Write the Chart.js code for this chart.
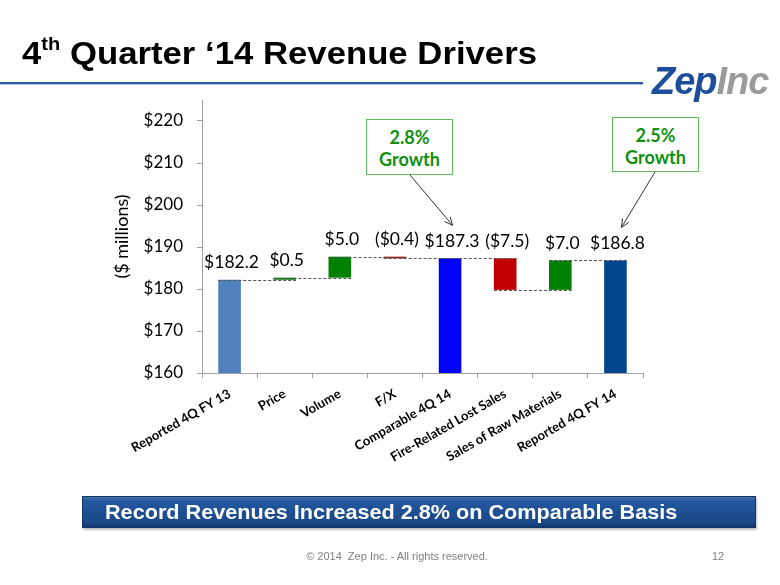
<!DOCTYPE html>
<html>
<head>
<meta charset="utf-8">
<script src="https://cdn.jsdelivr.net/npm/chart.js@4.4.1/dist/chart.umd.min.js"></script>
<style>
  html, body { margin: 0; padding: 0; background: #fff; }
  #wrap { position: relative; width: 780px; height: 585px; overflow: hidden; background: #fff; }
  #c { position: absolute; left: 0; top: 0; }
  .abs { position: absolute; white-space: nowrap; }
  #title { left: 22px; top: 37px; font-family: "Liberation Sans", Arial, sans-serif; font-weight: bold; font-size: 32px; line-height: 32px; color: #000; transform-origin: left center; transform: scaleX(1.085); }
  #title sup { font-size: 58%; vertical-align: 0; position: relative; top: -0.75em; }
  #rule { left: 0; top: 82px; width: 643px; height: 2px; background: #2D5FA8; }
  #rule2 { left: 0; top: 84px; width: 643px; height: 1px; background: #A9C0E0; }
  #logo { left: 652px; top: 61px; font-family: "Liberation Sans", Arial, sans-serif; font-weight: bold; font-style: italic; font-size: 38px; line-height: 40px; letter-spacing: -1px; }
  #logo .zep { color: #1C4E9C; }
  #logo .inc { color: #9B9B9B; }
  .box { position: absolute; border: 1.5px solid #63B863; background: #fff; color: #109010; font-family: Lato, "Open Sans", sans-serif; font-weight: bold; font-size: 18px; line-height: 22px; text-align: center; box-sizing: border-box; padding-top: 6px; }
  #banner { left: 82px; top: 496px; width: 674px; height: 32px; box-sizing: border-box; border: 1px solid #123566;
    background: linear-gradient(to bottom, #4874B0 0%, #2458A0 12%, #1E4F92 50%, #1B4887 85%, #133A70 100%);
    box-shadow: 1px 2px 2px rgba(0,0,0,0.25); }
  #bannerText { left: 105px; top: 500px; font-family: "Liberation Sans", Arial, sans-serif; font-weight: bold; font-size: 21px; line-height: 24px; color: #fff; transform-origin: left center; transform: scaleX(1.03); }
  #footer { left: 0; width: 794px; top: 550px; text-align: center; font-family: "Liberation Sans", Arial, sans-serif; font-size: 11px; color: #808080; }
  #page { left: 712px; top: 550px; font-family: "Liberation Sans", Arial, sans-serif; font-size: 11px; color: #808080; }
</style>
</head>
<body>
<div id="wrap">
  <canvas id="c" width="780" height="585"></canvas>
  <div id="title" class="abs">4<sup>th</sup> Quarter ‘14 Revenue Drivers</div>
  <div id="rule" class="abs"></div>
  <div id="rule2" class="abs"></div>
  <div id="logo" class="abs"><span class="zep">Zep</span><span class="inc">Inc</span></div>
  <div id="box1" class="box">2.8%<br>Growth</div>
  <div id="box2" class="box">2.5%<br>Growth</div>
  <div id="banner" class="abs"></div>
  <div id="bannerText" class="abs">Record Revenues Increased 2.8% on Comparable Basis</div>
  <div id="footer" class="abs">© 2014&nbsp; Zep Inc. - All rights reserved.</div>
  <div id="page" class="abs">12</div>
</div>
<script>
// ---- data ----
const categories = ['Reported 4Q FY 13', 'Price', 'Volume', 'F/X', 'Comparable 4Q 14', 'Fire-Related Lost Sales', 'Sales of Raw Materials', 'Reported 4Q FY 14'];
const amounts = [182.2, 0.5, 5.0, -0.4, 187.3, -7.5, 7.0, 186.8];
const isTotal = [true, false, false, false, true, false, false, true];
const valueLabels = ['$182.2', '$0.5', '$5.0', '($0.4)', '$187.3', '($7.5)', '$7.0', '$186.8'];
const barColors = ['#4F81BD', '#008000', '#008000', '#C00000', '#0000FF', '#C00000', '#008000', '#00468E'];
const yTickValues = [160, 170, 180, 190, 200, 210, 220];
const growthNotes = ['2.8%', '2.5%'];
const growthTargets = [4, 7]; // category index each note points to

// ---- layout (not data) ----
const Y_MIN = 160, Y_MAX = 225;
const boxes = [
  { id: 'box1', left: 366, top: 119, width: 87, height: 56, anchorX: 410 },
  { id: 'box2', left: 612, top: 117, width: 87, height: 55, anchorX: 655 }
];
boxes.forEach(b => {
  const el = document.getElementById(b.id);
  el.style.left = b.left + 'px'; el.style.top = b.top + 'px';
  el.style.width = b.width + 'px'; el.style.height = b.height + 'px';
});

// floating ranges from running totals
const ranges = [];
const ends = [];
let running = 0;
amounts.forEach((v, i) => {
  if (isTotal[i]) { running = v; ranges.push([Y_MIN, v]); }
  else { ranges.push([running, running + v]); running += v; }
  ends.push(running);
});

const extras = {
  id: 'extras',
  afterDatasetsDraw(chart) {
    const ctx = chart.ctx;
    const meta = chart.getDatasetMeta(0);
    const y = chart.scales.y;
    ctx.save();
    // connectors
    ctx.strokeStyle = '#555';
    ctx.lineWidth = 1;
    ctx.setLineDash([3, 2]);
    for (let i = 0; i < meta.data.length - 1; i++) {
      const a = meta.data[i], b = meta.data[i + 1];
      const py = Math.round(y.getPixelForValue(ends[i])) + 0.5;
      ctx.beginPath();
      ctx.moveTo(a.x - a.width / 2, py);
      ctx.lineTo(b.x + b.width / 2, py);
      ctx.stroke();
    }
    ctx.setLineDash([]);
    // value labels
    ctx.fillStyle = '#000';
    ctx.font = '17.5px Lato, "Open Sans", sans-serif';
    ctx.textAlign = 'center';
    ctx.textBaseline = 'middle';
    meta.data.forEach((bar, i) => {
      const top = Math.max(ranges[i][0], ranges[i][1]);
      ctx.fillText(valueLabels[i], bar.x + 2, y.getPixelForValue(top) - 17);
    });
    // arrows from notes
    ctx.strokeStyle = '#333';
    ctx.lineWidth = 1;
    boxes.forEach((b, k) => {
      const bar = meta.data[growthTargets[k]];
      const top = Math.max(...ranges[growthTargets[k]]);
      const x0 = b.anchorX, y0 = b.top + b.height;
      const x1 = bar.x + (k === 0 ? 2.5 : 6), y1 = y.getPixelForValue(top) - 33;
      ctx.beginPath(); ctx.moveTo(x0, y0); ctx.lineTo(x1, y1); ctx.stroke();
      const ang = Math.atan2(y1 - y0, x1 - x0);
      const L = 9, sp = 0.42;
      ctx.beginPath();
      ctx.moveTo(x1 - L * Math.cos(ang - sp), y1 - L * Math.sin(ang - sp));
      ctx.lineTo(x1, y1);
      ctx.lineTo(x1 - L * Math.cos(ang + sp), y1 - L * Math.sin(ang + sp));
      ctx.stroke();
    });
    ctx.restore();
  }
};

new Chart(document.getElementById('c'), {
  type: 'bar',
  data: {
    labels: categories,
    datasets: [{
      data: ranges,
      backgroundColor: barColors,
      borderWidth: 0,
      barPercentage: 0.41,
      categoryPercentage: 1.0
    }]
  },
  options: {
    responsive: false,
    animation: false,
    devicePixelRatio: 1,
    layout: { padding: { left: 0, top: 100, right: 137, bottom: 0 } },
    plugins: { legend: { display: false }, tooltip: { enabled: false } },
    scales: {
      x: {
        grid: { offset: true, drawOnChartArea: false, drawTicks: true, tickLength: 5, color: '#A0A0A0' },
        border: { display: true, color: '#A0A0A0', width: 1 },
        ticks: { autoSkip: false, minRotation: 30, maxRotation: 30, padding: 8, color: '#000',
                 font: { family: 'Lato, "Open Sans", sans-serif', weight: 'bold', size: 13 } },
        afterFit(s) { s.height = 212; }
      },
      y: {
        min: Y_MIN, max: Y_MAX,
        afterBuildTicks(s) { s.ticks = yTickValues.map(v => ({ value: v })); },
        grid: { drawOnChartArea: false, drawTicks: true, tickLength: 5, color: '#A0A0A0' },
        border: { display: true, color: '#A0A0A0', width: 1 },
        ticks: { padding: 14, color: '#000', callback: v => '$' + v,
                 font: { family: 'Lato, "Open Sans", sans-serif', size: 17 } },
        title: { display: true, text: '($ millions)', color: '#000', padding: { top: 111, bottom: 0 },
                 font: { family: 'Lato, "Open Sans", sans-serif', size: 18 } },
        afterFit(s) { s.width = 202; }
      }
    }
  },
  plugins: [extras]
});
</script>
</body>
</html>
